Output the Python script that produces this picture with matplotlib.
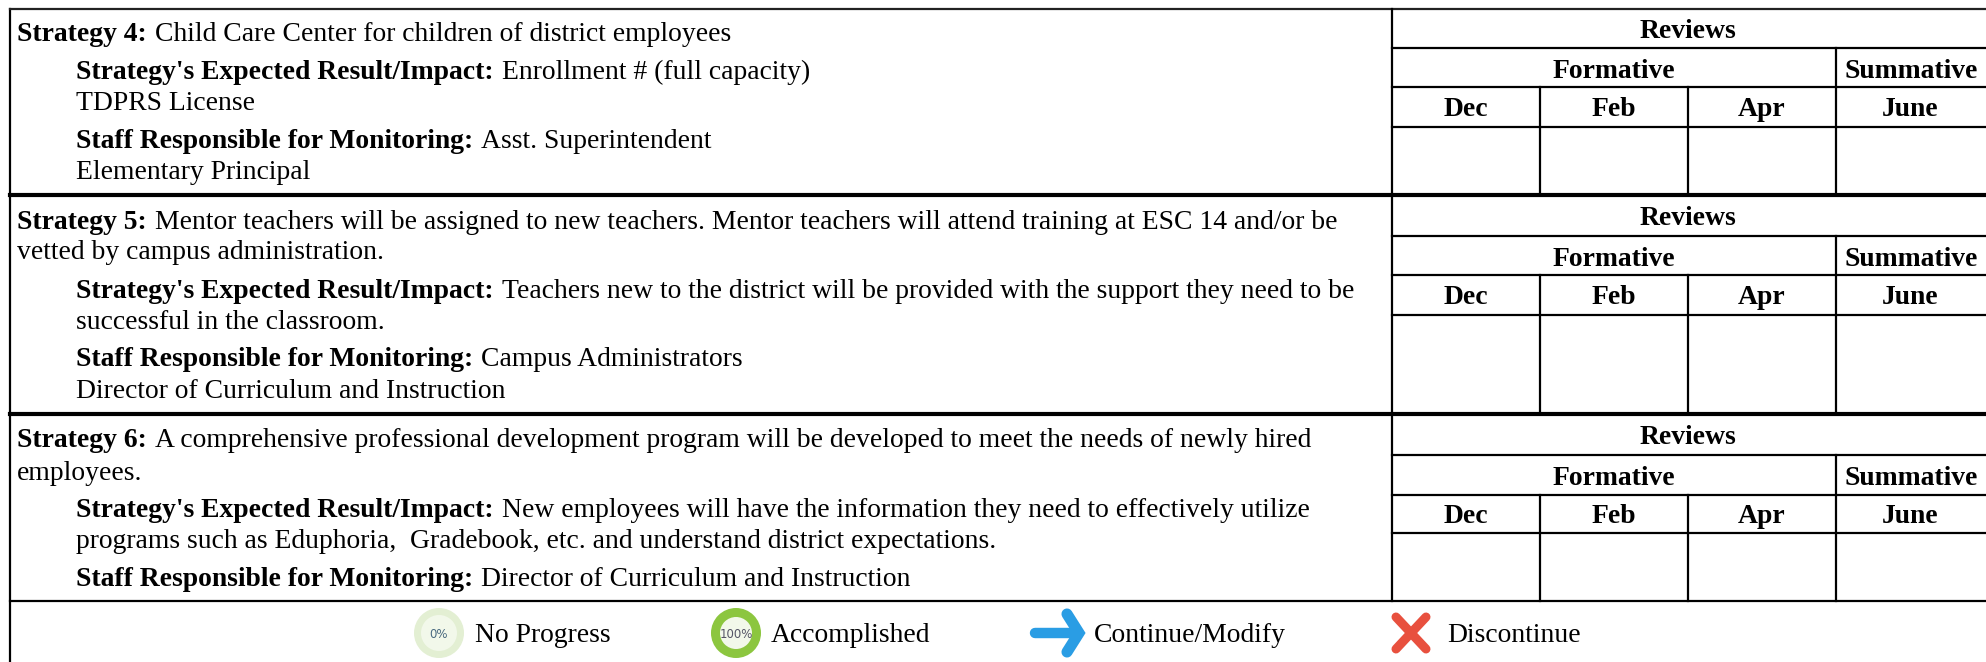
import matplotlib
matplotlib.use("Agg")
import matplotlib.pyplot as plt
from matplotlib.patches import Circle

months = ["Dec", "Feb", "Apr", "June"]
review_cols = [1392, 1540, 1688, 1836]

# y of the row lines for each block: top, reviews, formative, months, bottom
block_rows = [
    [9, 48, 87, 127, 194],
    [196, 236, 275, 315, 413],
    [415, 455, 495, 533, 601],
]

# (x, baseline, bold part, normal part)
lines = [
    (17, 41, "Strategy 4:", "Child Care Center for children of district employees"),
    (76, 79, "Strategy's Expected Result/Impact:", "Enrollment # (full capacity)"),
    (76, 110, "", "TDPRS License"),
    (76, 148, "Staff Responsible for Monitoring:", "Asst. Superintendent"),
    (76, 179, "", "Elementary Principal"),
    (17, 229, "Strategy 5:", "Mentor teachers will be assigned to new teachers. Mentor teachers will attend training at ESC 14 and/or be"),
    (17, 259, "", "vetted by campus administration."),
    (76, 298, "Strategy's Expected Result/Impact:", "Teachers new to the district will be provided with the support they need to be"),
    (76, 329, "", "successful in the classroom."),
    (76, 366, "Staff Responsible for Monitoring:", "Campus Administrators"),
    (76, 398, "", "Director of Curriculum and Instruction"),
    (17, 447, "Strategy 6:", "A comprehensive professional development program will be developed to meet the needs of newly hired"),
    (17, 480, "", "employees."),
    (76, 517, "Strategy's Expected Result/Impact:", "New employees will have the information they need to effectively utilize"),
    (76, 548, "", "programs such as Eduphoria,  Gradebook, etc. and understand district expectations."),
    (76, 586, "Staff Responsible for Monitoring:", "Director of Curriculum and Instruction"),
]

legend_labels = ["No Progress", "Accomplished", "Continue/Modify", "Discontinue"]
legend_x = [475, 771, 1094, 1447]

plt.rcParams['font.family'] = ['Liberation Serif', 'DejaVu Serif']
FS = 19.9
LW = 1.6

fig = plt.figure(figsize=(19.86, 6.62), dpi=100)
ax = fig.add_axes([0, 0, 1, 1])
ax.set_xlim(0, 1986)
ax.set_ylim(662, 0)
ax.axis("off")

r = fig.canvas.get_renderer()
for x, y, b, t in lines:
    if b:
        bt = ax.text(x, y, b, fontsize=FS, fontweight="bold", va="baseline", ha="left", color="k")
        x = x + bt.get_window_extent(r).width + 8
    if t:
        ax.text(x, y, t, fontsize=FS, va="baseline", ha="left", color="k")

# outer frame and the lines between blocks
ax.plot([10, 10], [9, 662], color="k", lw=LW)
ax.plot([10, 1986], [9, 9], color="#222222", lw=LW)
ax.plot([10, 1986], [194.5, 194.5], color="k", lw=3)
ax.plot([10, 1986], [414, 414], color="k", lw=3)
ax.plot([10, 1986], [601, 601], color="k", lw=LW)

for rows in block_rows:
    top, rev, form, mon, bot = rows
    ax.plot([1392, 1392], [top, bot], color="k", lw=LW)
    ax.plot([1392, 1986], [rev, rev], color="k", lw=LW)
    ax.plot([1392, 1986], [form, form], color="k", lw=LW)
    ax.plot([1392, 1986], [mon, mon], color="k", lw=LW)
    ax.plot([1836, 1836], [rev, bot], color="k", lw=LW)
    for c in review_cols[1:3]:
        ax.plot([c, c], [form, bot], color="k", lw=LW)
    ax.text(1688, (top + rev) / 2 + 9, "Reviews", fontsize=FS, fontweight="bold", ha="center", va="baseline", color="k")
    ax.text(1614, (rev + form) / 2 + 10, "Formative", fontsize=FS, fontweight="bold", ha="center", va="baseline", color="k")
    ax.text(1911, (rev + form) / 2 + 10, "Summative", fontsize=FS, fontweight="bold", ha="center", va="baseline", color="k")
    for i, m in enumerate(months):
        ax.text(review_cols[i] + 74, (form + mon) / 2 + 9, m, fontsize=FS, fontweight="bold", ha="center", va="baseline", color="k")

# legend icons
ax.add_patch(Circle((439, 633), 25, fc="#e3efd3", ec="none"))
ax.add_patch(Circle((439, 633), 18, fc="#f2f8ea", ec="none"))
ax.text(439, 634, "0%", fontsize=8.5, family="DejaVu Sans", ha="center", va="center", color="#4a6a80")
ax.add_patch(Circle((736, 633), 25, fc="#8cc63f", ec="none"))
ax.add_patch(Circle((736, 633), 16, fc="#f2f8ea", ec="none"))
ax.text(736, 634, "100%", fontsize=8.5, family="DejaVu Sans", ha="center", va="center", color="#555566")

blue = "#2a9de4"
ax.plot([1035, 1078], [633, 633], color=blue, lw=7.5, solid_capstyle="round")
ax.plot([1067, 1079, 1067], [614, 633, 652], color=blue, lw=8, solid_capstyle="round", solid_joinstyle="miter")
red = "#e8503e"
ax.plot([1396, 1426], [617, 649], color=red, lw=6.5, solid_capstyle="round")
ax.plot([1426, 1396], [617, 649], color=red, lw=6.5, solid_capstyle="round")

for x, lab in zip(legend_x, legend_labels):
    ax.text(x, 642, lab, fontsize=FS, va="baseline", ha="left", color="k")

fig.savefig("out.png", dpi=100)
